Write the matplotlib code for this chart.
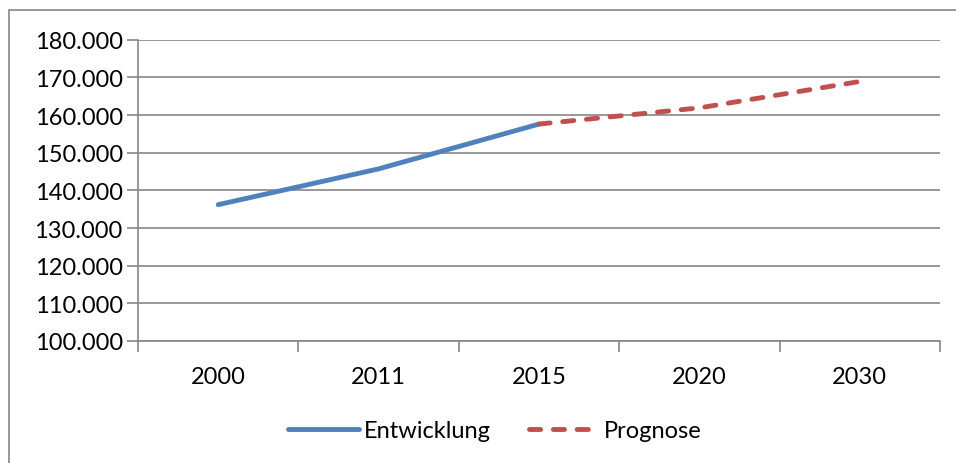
import matplotlib
matplotlib.use("Agg")
import matplotlib.pyplot as plt
from matplotlib.patches import Rectangle
from matplotlib.ticker import FuncFormatter, FixedLocator

# --- data ---
years = ["2000", "2011", "2015", "2020", "2030"]
entwicklung = [136200, 145700, 157600]
prognose = [157600, 161900, 168900]
prog_start = 2  # Prognose starts at 2015

plt.rcParams['font.family'] = ['Lato', 'DejaVu Sans']

fig = plt.figure(figsize=(9.56, 4.64), dpi=100)
ax = fig.add_axes([138 / 956, 1 - 342 / 464, 802 / 956, 301.3 / 464])

grid_col = "#868686"

# outer chart border
fig.patches.append(Rectangle((8.5 / 956, -0.05), 1.2, 0.05 + 1 - 11 / 464,
                             transform=fig.transFigure, fill=False,
                             edgecolor=grid_col, linewidth=1.2))

x_e = list(range(len(entwicklung)))
x_p = list(range(prog_start, prog_start + len(prognose)))

ax.plot(x_e, entwicklung, color="#4F81BD", linewidth=3.5, solid_capstyle="round",
        label="Entwicklung", zorder=3)
ax.plot(x_p, prognose, color="#C0504D", linewidth=3.5, dashes=(2.3, 2.6),
        dash_capstyle="round", label="Prognose", zorder=3)

ax.set_xlim(-0.5, len(years) - 0.5)
ax.set_ylim(100000, 180000)
ax.set_yticks(range(100000, 180001, 10000))
ax.yaxis.set_major_formatter(FuncFormatter(lambda v, p: f"{int(v):,}".replace(",", ".")))
ax.yaxis.grid(True, color=grid_col, linewidth=1.2)
ax.set_axisbelow(True)

ax.set_xticks(range(len(years)))
ax.set_xticklabels(years)
ax.xaxis.set_minor_locator(FixedLocator([i - 0.5 for i in range(len(years) + 1)]))
ax.tick_params(axis="x", which="major", length=0, pad=18, labelsize=17)
ax.tick_params(axis="x", which="minor", length=8, color=grid_col, width=1.2)
ax.tick_params(axis="y", length=8, color=grid_col, width=1.2, labelsize=17, pad=3)

for s in ["top", "right"]:
    ax.spines[s].set_visible(False)
for s in ["left", "bottom"]:
    ax.spines[s].set_color(grid_col)
    ax.spines[s].set_linewidth(1.2)

fig.legend(loc="center", bbox_to_anchor=(495 / 956, 1 - 432 / 464), ncol=2,
           frameon=False, fontsize=17, handlelength=3.0, handletextpad=0.2,
           columnspacing=1.6)

fig.savefig("out.png", dpi=100, facecolor="white")
